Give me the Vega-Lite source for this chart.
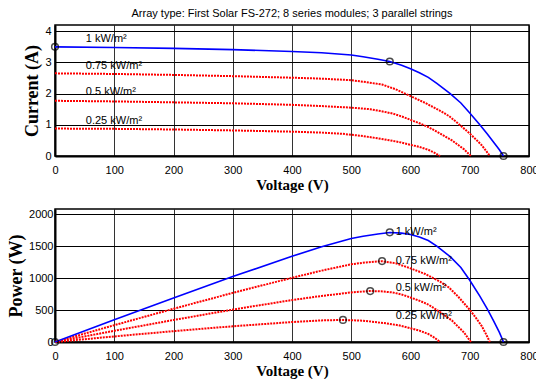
{
  "$schema": "https://vega.github.io/schema/vega-lite/v6.json",
  "autosize": {"type": "pad"},
  "padding": {"left": 6, "top": 7, "right": 0, "bottom": 0},
  "bounds": "flush",
  "spacing": 53,
  "background": "white",
  "config": {
    "view": {"stroke": "#000", "strokeWidth": 1.5},
    "axis": {
      "grid": true, "gridColor": "#000", "gridOpacity": 0.8, "gridWidth": 1,
      "ticks": false, "domain": true, "domainColor": "#000", "domainWidth": 2,
      "labelFont": "Liberation Sans", "labelFontSize": 11, "labelColor": "#000",
      "labelOverlap": false, "format": "d",
      "titleFont": "Liberation Serif", "titleFontWeight": "bold", "titleColor": "#000"
    },
    "axisX": {"labelPadding": 8, "titlePadding": 2, "titleFontSize": 15, "labelFlush": false},
    "axisY": {"labelPadding": 4, "titlePadding": 3, "titleFontSize": 18, "labelFlush": false, "gridOpacity": 1, "gridWidth": 1.1}
  },
  "datasets": {
    "curves": [
      {"g": "1", "V": 0, "I": 3.50, "P": 0},
      {"g": "1", "V": 100, "I": 3.48, "P": 348},
      {"g": "1", "V": 200, "I": 3.45, "P": 690},
      {"g": "1", "V": 300, "I": 3.41, "P": 1023},
      {"g": "1", "V": 400, "I": 3.35, "P": 1340},
      {"g": "1", "V": 450, "I": 3.31, "P": 1490},
      {"g": "1", "V": 500, "I": 3.24, "P": 1620},
      {"g": "1", "V": 520, "I": 3.18, "P": 1654},
      {"g": "1", "V": 545, "I": 3.10, "P": 1690},
      {"g": "1", "V": 565, "I": 3.03, "P": 1712},
      {"g": "1", "V": 585, "I": 2.91, "P": 1702},
      {"g": "1", "V": 600, "I": 2.80, "P": 1680},
      {"g": "1", "V": 615, "I": 2.67, "P": 1642},
      {"g": "1", "V": 630, "I": 2.52, "P": 1588},
      {"g": "1", "V": 645, "I": 2.32, "P": 1496},
      {"g": "1", "V": 667, "I": 2.00, "P": 1334},
      {"g": "1", "V": 685, "I": 1.70, "P": 1165},
      {"g": "1", "V": 700, "I": 1.38, "P": 966},
      {"g": "1", "V": 717, "I": 1.00, "P": 717},
      {"g": "1", "V": 730, "I": 0.70, "P": 511},
      {"g": "1", "V": 740, "I": 0.45, "P": 333},
      {"g": "1", "V": 750, "I": 0.20, "P": 150},
      {"g": "1", "V": 757, "I": 0, "P": 0},
      {"g": "0.75", "V": 0, "I": 2.65, "P": 0},
      {"g": "0.75", "V": 100, "I": 2.63, "P": 263},
      {"g": "0.75", "V": 200, "I": 2.60, "P": 520},
      {"g": "0.75", "V": 300, "I": 2.56, "P": 768},
      {"g": "0.75", "V": 400, "I": 2.51, "P": 1004},
      {"g": "0.75", "V": 450, "I": 2.48, "P": 1116},
      {"g": "0.75", "V": 500, "I": 2.43, "P": 1215},
      {"g": "0.75", "V": 525, "I": 2.37, "P": 1244},
      {"g": "0.75", "V": 552, "I": 2.29, "P": 1264},
      {"g": "0.75", "V": 575, "I": 2.14, "P": 1231},
      {"g": "0.75", "V": 600, "I": 1.92, "P": 1152},
      {"g": "0.75", "V": 625, "I": 1.70, "P": 1063},
      {"g": "0.75", "V": 650, "I": 1.45, "P": 943},
      {"g": "0.75", "V": 665, "I": 1.28, "P": 851},
      {"g": "0.75", "V": 680, "I": 1.05, "P": 714},
      {"g": "0.75", "V": 700, "I": 0.72, "P": 504},
      {"g": "0.75", "V": 710, "I": 0.54, "P": 383},
      {"g": "0.75", "V": 720, "I": 0.35, "P": 252},
      {"g": "0.75", "V": 727, "I": 0.18, "P": 131},
      {"g": "0.75", "V": 734, "I": 0, "P": 0},
      {"g": "0.5", "V": 0, "I": 1.77, "P": 0},
      {"g": "0.5", "V": 100, "I": 1.75, "P": 175},
      {"g": "0.5", "V": 200, "I": 1.72, "P": 344},
      {"g": "0.5", "V": 300, "I": 1.69, "P": 507},
      {"g": "0.5", "V": 400, "I": 1.64, "P": 656},
      {"g": "0.5", "V": 450, "I": 1.60, "P": 720},
      {"g": "0.5", "V": 500, "I": 1.55, "P": 775},
      {"g": "0.5", "V": 532, "I": 1.50, "P": 798},
      {"g": "0.5", "V": 550, "I": 1.44, "P": 792},
      {"g": "0.5", "V": 570, "I": 1.36, "P": 775},
      {"g": "0.5", "V": 585, "I": 1.27, "P": 743},
      {"g": "0.5", "V": 600, "I": 1.16, "P": 696},
      {"g": "0.5", "V": 615, "I": 1.05, "P": 646},
      {"g": "0.5", "V": 630, "I": 0.93, "P": 586},
      {"g": "0.5", "V": 650, "I": 0.72, "P": 468},
      {"g": "0.5", "V": 670, "I": 0.50, "P": 335},
      {"g": "0.5", "V": 690, "I": 0.22, "P": 152},
      {"g": "0.5", "V": 702, "I": 0, "P": 0},
      {"g": "0.25", "V": 0, "I": 0.88, "P": 0},
      {"g": "0.25", "V": 100, "I": 0.87, "P": 87},
      {"g": "0.25", "V": 200, "I": 0.85, "P": 170},
      {"g": "0.25", "V": 300, "I": 0.82, "P": 246},
      {"g": "0.25", "V": 400, "I": 0.78, "P": 312},
      {"g": "0.25", "V": 450, "I": 0.75, "P": 338},
      {"g": "0.25", "V": 486, "I": 0.71, "P": 345},
      {"g": "0.25", "V": 520, "I": 0.64, "P": 333},
      {"g": "0.25", "V": 560, "I": 0.52, "P": 291},
      {"g": "0.25", "V": 580, "I": 0.45, "P": 261},
      {"g": "0.25", "V": 600, "I": 0.36, "P": 216},
      {"g": "0.25", "V": 615, "I": 0.29, "P": 178},
      {"g": "0.25", "V": 630, "I": 0.20, "P": 126},
      {"g": "0.25", "V": 640, "I": 0.11, "P": 70},
      {"g": "0.25", "V": 650, "I": 0, "P": 0}
    ],
    "ivpoints": [
      {"V": 0, "I": 3.5},
      {"V": 565, "I": 3.03},
      {"V": 757, "I": 0}
    ],
    "pvpoints": [
      {"V": 0, "P": 0},
      {"V": 565, "P": 1715},
      {"V": 552, "P": 1265},
      {"V": 532, "P": 797},
      {"V": 486, "P": 345},
      {"V": 757, "P": 0}
    ],
    "ivlabels": [
      {"V": 52, "I": 3.74, "t": "1 kW/m²"},
      {"V": 52, "I": 2.87, "t": "0.75 kW/m²"},
      {"V": 52, "I": 2.06, "t": "0.5 kW/m²"},
      {"V": 52, "I": 1.13, "t": "0.25 kW/m²"}
    ],
    "pvlabels": [
      {"V": 575, "P": 1719, "t": "1 kW/m²"},
      {"V": 575, "P": 1265, "t": "0.75 kW/m²"},
      {"V": 575, "P": 843, "t": "0.5 kW/m²"},
      {"V": 575, "P": 406, "t": "0.25 kW/m²"}
    ]
  },
  "vconcat": [
    {
      "width": 474,
      "height": 131,
      "title": {"text": "Array type: First Solar FS-272; 8 series modules; 3 parallel strings", "font": "Liberation Sans", "fontSize": 11, "fontWeight": "normal", "color": "#000", "offset": 6},
      "encoding": {
        "x": {"field": "V", "type": "quantitative", "scale": {"domain": [0, 800], "nice": false}, "axis": {"values": [0, 100, 200, 300, 400, 500, 600, 700, 800], "title": "Voltage (V)"}},
        "y": {"field": "I", "type": "quantitative", "scale": {"domain": [0, 4.2], "nice": false}, "axis": {"values": [0, 1, 2, 3, 4], "title": "Current (A)"}}
      },
      "layer": [
        {
          "data": {"name": "curves"},
          "transform": [{"filter": "datum.g != '1'"}],
          "mark": {"type": "line", "color": "#ff0000", "strokeWidth": 2, "strokeDash": [2, 1]},
          "encoding": {"detail": {"field": "g"}}
        },
        {
          "data": {"name": "curves"},
          "transform": [{"filter": "datum.g == '1'"}],
          "mark": {"type": "line", "color": "#0000ff", "strokeWidth": 1.6},
          "encoding": {}
        },
        {
          "data": {"name": "ivpoints"},
          "mark": {"type": "point", "shape": "circle", "filled": false, "color": "#000", "strokeWidth": 1.5, "size": 45}
        },
        {
          "data": {"name": "ivlabels"},
          "mark": {"type": "text", "align": "left", "baseline": "middle", "font": "Liberation Sans", "fontSize": 11, "color": "#000"},
          "encoding": {"text": {"field": "t"}}
        }
      ]
    },
    {
      "width": 474,
      "height": 133,
      "encoding": {
        "x": {"field": "V", "type": "quantitative", "scale": {"domain": [0, 800], "nice": false}, "axis": {"values": [0, 100, 200, 300, 400, 500, 600, 700, 800], "title": "Voltage (V)"}},
        "y": {"field": "P", "type": "quantitative", "scale": {"domain": [0, 2080], "nice": false}, "axis": {"values": [0, 500, 1000, 1500, 2000], "title": "Power (W)", "labelPadding": 2}}
      },
      "layer": [
        {
          "data": {"name": "curves"},
          "transform": [{"filter": "datum.g != '1'"}],
          "mark": {"type": "line", "color": "#ff0000", "strokeWidth": 2, "strokeDash": [2, 1]},
          "encoding": {"detail": {"field": "g"}}
        },
        {
          "data": {"name": "curves"},
          "transform": [{"filter": "datum.g == '1'"}],
          "mark": {"type": "line", "color": "#0000ff", "strokeWidth": 1.6},
          "encoding": {}
        },
        {
          "data": {"name": "pvpoints"},
          "mark": {"type": "point", "shape": "circle", "filled": false, "color": "#000", "strokeWidth": 1.5, "size": 45}
        },
        {
          "data": {"name": "pvlabels"},
          "mark": {"type": "text", "align": "left", "baseline": "middle", "font": "Liberation Sans", "fontSize": 11, "color": "#000"},
          "encoding": {"text": {"field": "t"}}
        }
      ]
    }
  ]
}
